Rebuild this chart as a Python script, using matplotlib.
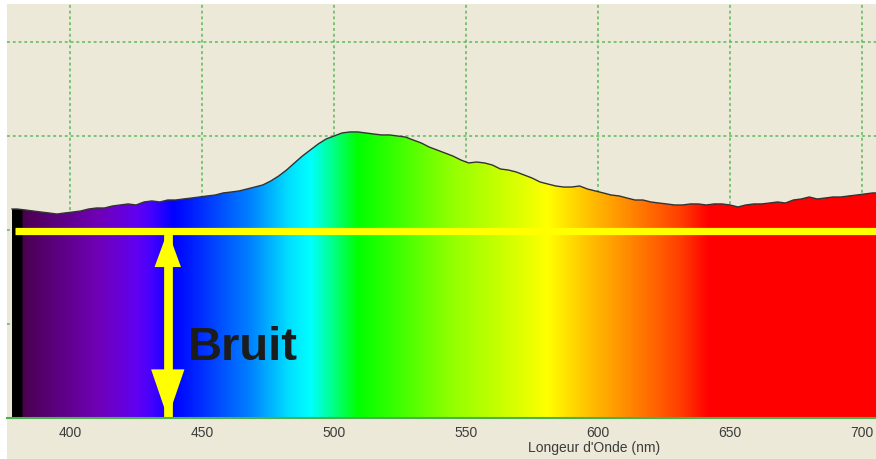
import numpy as np
import matplotlib
matplotlib.use("Agg")
import matplotlib.pyplot as plt
from matplotlib.colors import LinearSegmentedColormap, Normalize
from matplotlib.patches import Polygon, Rectangle, FancyArrowPatch

# Measured spectrum (wavelength in nm, intensity in counts)
wavelength = [378, 380, 383, 386, 389, 392, 395, 398, 401, 404, 407, 410, 413, 416,
              419, 422, 425, 428, 431, 434, 437, 440, 443, 446, 449, 452, 455, 458,
              461, 464, 467, 470, 473, 476, 479, 482, 485, 488, 491, 494, 497, 500,
              503, 506, 509, 512, 515, 518, 521, 524, 527, 530, 533, 536, 539, 542,
              545, 548, 551, 554, 557, 560, 563, 566, 569, 572, 575, 578, 581, 584,
              587, 590, 593, 596, 599, 602, 605, 608, 611, 614, 617, 620, 623, 626,
              629, 632, 635, 638, 641, 644, 647, 650, 653, 656, 659, 662, 665, 668,
              671, 674, 677, 680, 683, 686, 689, 692, 695, 698, 701, 704, 706]
intensity = [2223, 2223, 2213, 2202, 2191, 2181, 2170, 2181, 2191, 2202, 2223, 2234,
             2234, 2255, 2266, 2277, 2266, 2298, 2309, 2298, 2319, 2319, 2330, 2340,
             2351, 2362, 2372, 2394, 2404, 2415, 2436, 2457, 2479, 2521, 2574, 2638,
             2713, 2787, 2851, 2915, 2968, 3000, 3032, 3043, 3043, 3032, 3021, 3011,
             3011, 3000, 2989, 2957, 2926, 2883, 2851, 2819, 2787, 2745, 2713, 2723,
             2713, 2691, 2649, 2638, 2617, 2585, 2553, 2511, 2489, 2468, 2457, 2457,
             2468, 2436, 2415, 2394, 2372, 2362, 2340, 2319, 2319, 2298, 2287, 2277,
             2266, 2266, 2277, 2277, 2266, 2277, 2277, 2266, 2245, 2266, 2277, 2277,
             2287, 2298, 2287, 2319, 2330, 2351, 2330, 2340, 2351, 2351, 2362, 2372,
             2383, 2394, 2394]

noise_level = 1990        # dark-noise baseline (counts)
noise_start = 379.2       # where the baseline marker begins (nm)
arrow_wl = 437            # position of the "Bruit" double arrow (nm)
label_text = "Bruit"
label_wl = 444.7
label_y = 617

xticks = [400, 450, 500, 550, 600, 650, 700]
yticks = [1000, 2000, 3000, 4000]
xlim = (376.1, 705.3)
ylim = (0, 4404)
xlabel = "Longeur d'Onde (nm)"

# Spectral colour ramp (wavelength -> display colour)
ramp = [(376.0, "#000000"), (381.7, "#000000"), (381.9, "#4a0050"),
        (395, "#5c0080"), (411, "#7000b8"), (425, "#6000f0"), (431, "#4400ff"),
        (439, "#0000ff"), (450, "#0030ff"), (468, "#0080ff"), (483, "#00e0ff"),
        (491, "#00ffff"), (499, "#00ff90"), (509, "#00ff00"), (525, "#40ff00"),
        (544, "#90ff00"), (563, "#c8ff00"), (581, "#ffff00"), (597, "#ffbf00"),
        (612, "#ff8800"), (631, "#ff4000"), (642, "#ff0000"), (706.0, "#ff0000")]

BG = "#ece9d8"
GRID = "#5cb85c"

fig = plt.figure(figsize=(8.76, 4.59), dpi=100, facecolor="white")
fig.patches.append(Rectangle((7 / 876, 0), 869 / 876, 455 / 459,
                             transform=fig.transFigure, facecolor=BG,
                             edgecolor="none", zorder=-10))
ax = fig.add_axes([7 / 876, 1 - 418 / 459, 869 / 876, 414 / 459])
ax.set_facecolor(BG)
ax.set_xlim(*xlim)
ax.set_ylim(*ylim)

# dotted grid
ax.set_xticks(xticks)
ax.set_yticks(yticks)
ax.set_axisbelow(True)
ax.grid(True, color=GRID, linestyle=(0, (1.6, 1.6)), linewidth=1.3, alpha=0.85)

for side in ("left", "right", "top"):
    ax.spines[side].set_visible(False)
ax.spines["bottom"].set_color("#4caf50")
ax.spines["bottom"].set_linewidth(1.5)
ax.spines["bottom"].set_zorder(5)

ax.tick_params(axis="y", left=False, labelleft=False)
ax.tick_params(axis="x", length=0, pad=6, labelsize=10, labelcolor="#3c3c3c")
for lab in ax.get_xticklabels():
    lab.set_fontfamily("Liberation Sans")

ax.set_xlabel(xlabel, fontsize=10, color="#3c3c3c", family="Liberation Sans")
ax.xaxis.set_label_coords((594 - 7) / 869, -(441 - 418) / 414)

# spectrum filled with the colour ramp
wl = np.asarray(wavelength, float)
iv = np.asarray(intensity, float)
lo, hi = ramp[0][0], ramp[-1][0]
cmap = LinearSegmentedColormap.from_list(
    "spectrum", [((w - lo) / (hi - lo), c) for w, c in ramp], N=1024)
grad = np.linspace(lo, hi, 1400)[np.newaxis, :]
im = ax.imshow(grad, extent=(lo, hi, 0, ylim[1]), aspect="auto", cmap=cmap,
               norm=Normalize(lo, hi), interpolation="bilinear", zorder=1)
verts = np.vstack([[wl[0], 0], np.column_stack([wl, iv]), [wl[-1], 0]])
clip = Polygon(verts, closed=True, transform=ax.transData,
               facecolor="none", edgecolor="none")
ax.add_patch(clip)
im.set_clip_path(clip)
ax.plot(wl, iv, color="#333333", lw=1.0, zorder=2)

# noise baseline
ax.hlines(noise_level, noise_start, xlim[1] + 5, colors="#ffff00", lw=5.2, zorder=3)

# double arrow between zero and the noise level
ax.vlines(arrow_wl, 0, noise_level, colors="#ffff00", lw=6.3, zorder=3)
mid = noise_level / 2
top = FancyArrowPatch((arrow_wl, mid), (arrow_wl, noise_level),
                      arrowstyle="-|>,head_length=26,head_width=9.5",
                      mutation_scale=1, lw=0, color="#ffff00",
                      shrinkA=0, shrinkB=0, zorder=4)
bot = FancyArrowPatch((arrow_wl, mid), (arrow_wl, 0),
                      arrowstyle="-|>,head_length=35,head_width=12",
                      mutation_scale=1, lw=0, color="#ffff00",
                      shrinkA=0, shrinkB=0, zorder=4)
ax.add_patch(top)
ax.add_patch(bot)

ax.text(label_wl, label_y, label_text, fontsize=34, fontweight="bold",
        family="Liberation Sans", color="#1c1c1c", ha="left", va="baseline",
        zorder=5)

fig.savefig("out.png", dpi=100, facecolor="white")
